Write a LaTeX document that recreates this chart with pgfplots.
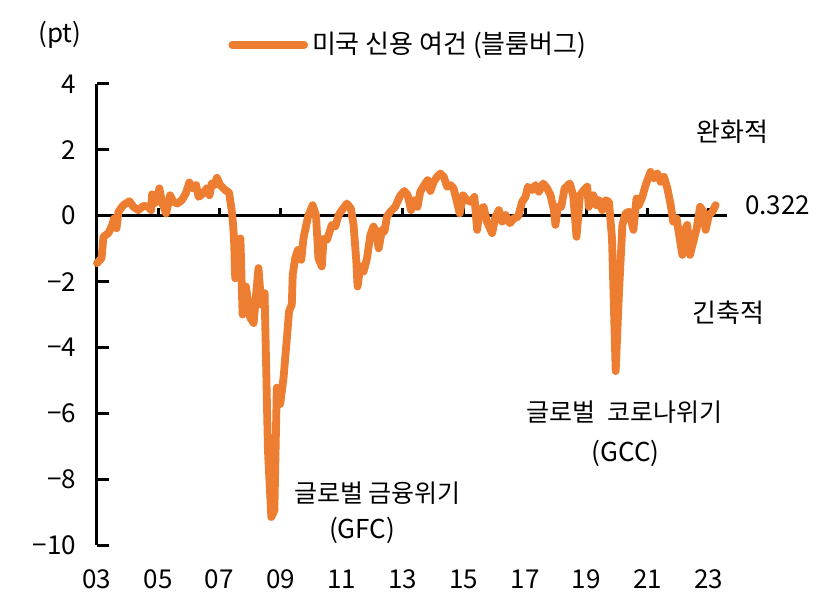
\documentclass[border=0pt]{standalone}
\usepackage{pgfplots}
\pgfplotsset{compat=1.18}
\usepackage{fontspec}
\setmainfont{Noto Sans CJK KR}
\definecolor{lineorange}{HTML}{ED7D31}
\begin{document}
\fontsize{13}{15}\selectfont
\begin{tikzpicture}
\path[use as bounding box] (-48.5pt,-32.5pt) rectangle (363pt,272.5pt);
\begin{axis}[
  at={(0,0)}, anchor=south west,
  width=315pt, height=230.5pt, scale only axis,
  xmin=2003, xmax=2023.6, ymin=-10, ymax=4,
  axis x line*=bottom, axis y line*=left,
  x axis line style={draw=none},
  y axis line style={line width=1.5pt},
  xtick={2003,2005,...,2023},
  xticklabels={03,05,07,09,11,13,15,17,19,21,23},
  ytick={-10,-8,...,4},
  yticklabels={−10,−8,−6,−4,−2,0,2,4},
  tick align=inside,
  major tick length=6pt,
  ytick style={line width=1.5pt, black},
  xtick style={draw=none},
  xticklabel style={anchor=center, yshift=-17pt},
  yticklabel style={anchor=east, xshift=-6pt},
  /pgf/number format/assume math mode=true,
  clip=false,
  legend style={at={(0.208,1.085)}, anchor=west, draw=none, fill=none, inner sep=0pt, font=\fontsize{13}{15}\selectfont},
  legend image code/.code={\draw[line width=3.8pt, lineorange] (0pt,0pt) -- (36pt,0pt);},
  legend cell align=left,
]
\draw[line width=1.5pt] (axis cs:2003,0) -- (axis cs:2023.6,0);
\pgfplotsinvokeforeach{2005,2007,2009,2011,2013,2015,2017,2019,2021,2023}{
  \draw[line width=1.5pt] (axis cs:#1,0) -- ++(0pt,4pt);
}
\addplot[lineorange, line width=3.9pt, line join=round, line cap=round] coordinates {
(2003.00,-1.44)(2003.15,-1.29)(2003.21,-0.64)(2003.37,-0.53)(2003.48,-0.33)(2003.56,-0.08)
(2003.64,-0.38)(2003.70,0.12)(2003.86,0.32)(2004.06,0.44)(2004.19,0.27)(2004.35,0.17)
(2004.52,0.30)(2004.68,0.27)(2004.77,0.17)(2004.80,0.65)(2004.84,0.37)(2004.95,0.42)
(2005.04,0.83)(2005.12,0.42)(2005.26,0.07)(2005.39,0.62)(2005.50,0.42)(2005.63,0.37)
(2005.77,0.47)(2005.90,0.67)(2006.02,1.01)(2006.13,0.83)(2006.24,0.93)(2006.32,0.57)
(2006.46,0.67)(2006.59,0.83)(2006.68,0.62)(2006.75,0.98)(2006.84,0.93)(2006.92,1.15)
(2007.03,0.93)(2007.19,0.78)(2007.32,0.70)(2007.41,0.12)(2007.45,-0.28)(2007.48,-0.69)
(2007.52,-1.90)(2007.63,-1.39)(2007.69,-0.69)(2007.76,-3.00)(2007.87,-2.15)(2008.01,-3.10)
(2008.12,-3.26)(2008.28,-1.59)(2008.37,-2.70)(2008.48,-2.35)(2008.59,-7.14)(2008.70,-9.15)
(2008.80,-8.95)(2008.88,-5.22)(2008.99,-5.72)(2009.10,-4.92)(2009.21,-3.71)(2009.28,-2.90)
(2009.37,-2.70)(2009.40,-1.79)(2009.48,-1.29)(2009.57,-1.04)(2009.68,-1.34)(2009.75,-0.69)
(2009.90,-0.03)(2010.05,0.32)(2010.16,0.02)(2010.24,-1.29)(2010.35,-1.54)(2010.41,-0.70)
(2010.52,-0.73)(2010.68,-0.28)(2010.79,-0.33)(2010.90,0.02)(2011.01,0.17)(2011.17,0.37)
(2011.30,0.22)(2011.39,-0.28)(2011.48,-1.39)(2011.52,-2.15)(2011.61,-1.54)(2011.72,-1.69)
(2011.83,-1.29)(2011.94,-0.58)(2012.04,-0.33)(2012.13,-0.48)(2012.21,-0.99)(2012.32,-0.43)
(2012.40,-0.48)(2012.48,-0.03)(2012.59,0.12)(2012.75,0.27)(2012.92,0.62)(2013.05,0.75)
(2013.16,0.62)(2013.27,0.17)(2013.38,0.47)(2013.48,0.27)(2013.57,0.73)(2013.70,0.93)
(2013.81,1.08)(2013.90,0.75)(2014.01,1.03)(2014.12,1.18)(2014.23,1.28)(2014.34,1.18)
(2014.45,0.88)(2014.56,0.93)(2014.66,0.83)(2014.77,0.42)(2014.86,0.07)(2014.97,0.62)
(2015.10,0.47)(2015.23,0.42)(2015.34,0.57)(2015.43,-0.43)(2015.51,0.17)(2015.64,0.27)
(2015.75,-0.18)(2015.92,-0.53)(2016.03,-0.03)(2016.14,0.17)(2016.25,-0.18)(2016.36,0.02)
(2016.50,-0.23)(2016.63,-0.08)(2016.77,-0.03)(2016.90,0.42)(2017.01,0.57)(2017.09,0.88)
(2017.23,0.78)(2017.34,0.93)(2017.45,0.73)(2017.59,0.98)(2017.72,0.83)(2017.83,0.62)
(2017.94,0.17)(2017.99,-0.28)(2018.07,0.27)(2018.18,0.27)(2018.29,0.83)(2018.46,0.98)
(2018.57,0.62)(2018.68,-0.64)(2018.79,0.62)(2018.92,0.78)(2019.03,0.88)(2019.08,0.27)
(2019.23,0.62)(2019.33,0.32)(2019.41,0.47)(2019.52,0.17)(2019.63,0.47)(2019.74,0.42)
(2019.84,-0.69)(2019.96,-4.72)(2020.07,-2.30)(2020.18,-0.28)(2020.28,0.07)(2020.40,0.12)
(2020.54,-0.43)(2020.64,0.52)(2020.72,0.32)(2020.83,0.57)(2020.94,0.93)(2021.10,1.33)
(2021.21,1.13)(2021.32,1.28)(2021.43,1.03)(2021.54,1.18)(2021.65,0.83)(2021.76,0.32)
(2021.84,-0.18)(2021.95,-0.08)(2022.06,-0.73)(2022.14,-1.19)(2022.25,-0.38)(2022.30,-0.28)
(2022.39,-1.19)(2022.50,-0.79)(2022.61,-0.38)(2022.72,0.27)(2022.83,0.12)(2022.90,-0.43)
(2023.01,0.02)(2023.12,0.12)(2023.23,0.322)
};
\addlegendentry{미국 신용 여건 (블룸버그)}
\node at (rel axis cs:-0.0587,1.106) {(pt)};
\node at (axis cs:2023.79,2.54) {완화적};
\node at (axis cs:2025.26,0.33) {0.322};
\node at (axis cs:2023.65,-2.96) {긴축적};
\node at (axis cs:2020.25,-5.96) {\fontsize{12.5}{15}\selectfont 글로벌\ \ 코로나위기};
\node at (axis cs:2020.28,-7.23) {(GCC)};
\node at (axis cs:2012.17,-8.41) {\fontsize{12.5}{15}\selectfont 글로벌 금융위기};
\node at (axis cs:2011.67,-9.56) {(GFC)};
\end{axis}
\end{tikzpicture}
\end{document}
